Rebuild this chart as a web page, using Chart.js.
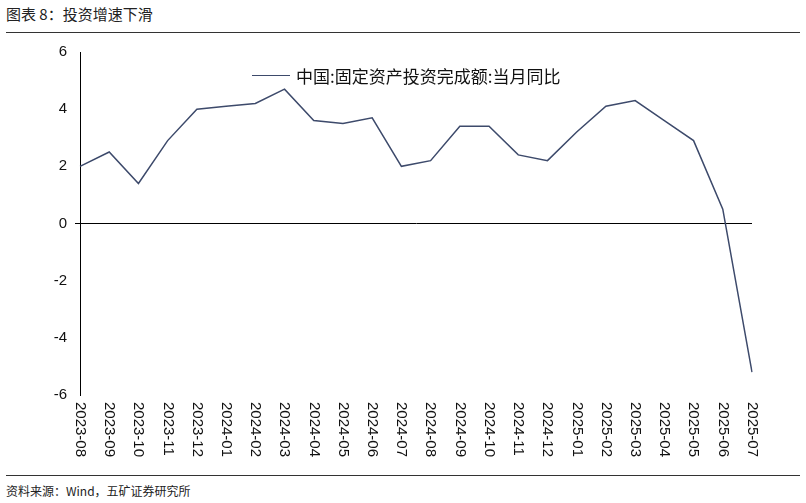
<!DOCTYPE html>
<html><head><meta charset="utf-8">
<script src="https://cdn.jsdelivr.net/npm/chart.js@4/dist/chart.umd.min.js"></script>
<style>
body{margin:0;width:806px;height:503px;background:#fff;font-family:"Noto Sans CJK SC","Liberation Sans",sans-serif;position:relative;overflow:hidden}
#title{position:absolute;left:6px;top:3px;font-size:15px;color:#222}
#topline{position:absolute;left:6px;right:6px;top:32px;border-top:1px solid #333}
#botline{position:absolute;left:6px;right:6px;top:475px;border-top:1px solid #333}
#src{position:absolute;left:6px;top:482px;font-size:12px;color:#222}
#wrap{position:absolute;left:0;top:35px;width:806px;height:435px}
#legend{position:absolute;left:252px;top:63px;font-size:17px;color:#111;display:flex;align-items:center}
#legend span.ln{display:inline-block;width:38px;border-top:1.5px solid #3d4a6b;margin-right:6px}
</style></head><body>
<div id="title">图表 8：投资增速下滑</div>
<div id="topline"></div>
<div id="wrap"><canvas id="c"></canvas></div>
<div id="legend"><span class="ln"></span>中国:固定资产投资完成额:当月同比</div>
<div id="botline"></div>
<div id="src">资料来源：Wind，五矿证券研究所</div>
<script>
const months = ['2023-08','2023-09','2023-10','2023-11','2023-12','2024-01','2024-02','2024-03','2024-04','2024-05','2024-06','2024-07','2024-08','2024-09','2024-10','2024-11','2024-12','2025-01','2025-02','2025-03','2025-04','2025-05','2025-06','2025-07'];
const fixedInvestYoY = [2.0,2.5,1.4,2.9,4.0,4.1,4.2,4.7,3.6,3.5,3.7,2.0,2.2,3.4,3.4,2.4,2.2,3.2,4.1,4.3,3.6,2.9,0.5,-5.2];
const yTicks = [-6,-4,-2,0,2,4,6];

// x labels read top-to-bottom (rotated clockwise)
const downLabels = {
  id: 'downLabels',
  afterDraw(chart) {
    const x = chart.scales.x, ctx = chart.ctx;
    ctx.save();
    ctx.font = '15px "Liberation Sans"';
    ctx.fillStyle = '#111';
    ctx.textAlign = 'left';
    ctx.textBaseline = 'middle';
    months.forEach((m, i) => {
      ctx.save();
      ctx.translate(x.getPixelForValue(i), x.top + 7);
      ctx.rotate(Math.PI / 2);
      ctx.fillText(m, 0, 0);
      ctx.restore();
    });
    ctx.restore();
  }
};

new Chart(document.getElementById('c'), {
  type: 'line',
  data: {
    labels: months,
    datasets: [{
      label: '中国:固定资产投资完成额:当月同比',
      data: fixedInvestYoY,
      borderColor: '#3d4a6b',
      borderWidth: 1.5,
      pointRadius: 0,
      tension: 0
    }]
  },
  options: {
    responsive: true,
    maintainAspectRatio: false,
    animation: false,
    layout: { padding: { left: 0, right: 54, top: 15, bottom: 0 } },
    plugins: { legend: { display: false }, tooltip: { enabled: false } },
    scales: {
      x: {
        offset: false,
        grid: { display: false, drawTicks: false },
        border: { display: false },
        ticks: { display: false, autoSkip: false },
        afterFit: s => { s.height = 75; }
      },
      y: {
        min: -6, max: 6,
        afterBuildTicks: s => { s.ticks = yTicks.map(v => ({ value: v })); },
        grid: {
          drawTicks: true, tickLength: 5,
          color: c => c.tick && c.tick.value === 0 ? '#000' : 'rgba(0,0,0,0)',
          lineWidth: 1
        },
        border: { display: true, color: '#000' },
        ticks: { color: '#111', font: { size: 15, family: 'Liberation Sans' }, padding: 8 },
        afterFit: s => { s.width = 80; }
      }
    }
  },
  plugins: [downLabels]
});
</script>
</body></html>
